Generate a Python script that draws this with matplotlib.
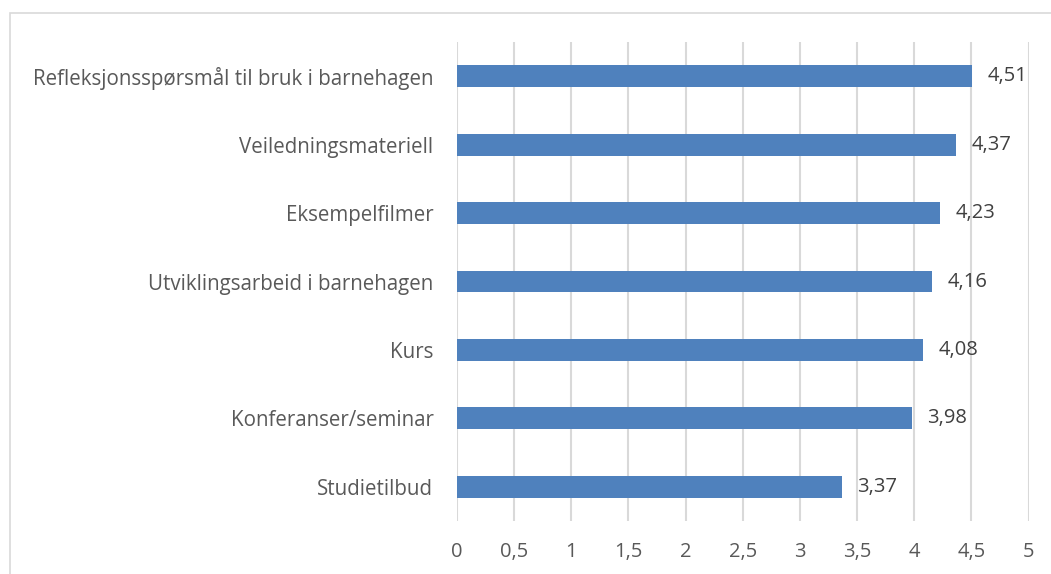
import matplotlib

matplotlib.use("Agg")
import matplotlib.pyplot as plt
from matplotlib.patches import Rectangle

categories = [
    "Refleksjonsspørsmål til bruk i barnehagen",
    "Veiledningsmateriell",
    "Eksempelfilmer",
    "Utviklingsarbeid i barnehagen",
    "Kurs",
    "Konferanser/seminar",
    "Studietilbud",
]
values = [4.51, 4.37, 4.23, 4.16, 4.08, 3.98, 3.37]
xticks = [0, 0.5, 1, 1.5, 2, 2.5, 3, 3.5, 4, 4.5, 5]

plt.rcParams["font.family"] = ["Open Sans", "DejaVu Sans"]

fig = plt.figure(figsize=(10.51, 5.74), dpi=100)
# light frame round the chart area
fig.patches.append(Rectangle((10 / 1051, -0.1), 1.2, 1.1 - 13 / 574,
                             transform=fig.transFigure, fill=False,
                             edgecolor="#D9D9D9", lw=1.2))

ax = fig.add_axes([457 / 1051, 1 - 521 / 574, (1028.5 - 457) / 1051, 479 / 574])
ypos = list(range(len(categories)))
ax.barh(ypos, values, height=0.32, color="#4F81BD", zorder=2)
ax.set_ylim(len(categories) - 0.5, -0.5)
ax.set_xlim(0, 5)
ax.set_xticks(xticks)
ax.set_xticklabels([f"{t:g}".replace(".", ",") for t in xticks],
                   fontsize=14.5, color="#595959")
ax.set_yticks(ypos)
ax.set_yticklabels(categories, fontsize=14.8, color="#595959")
ax.tick_params(axis="y", length=0, pad=17)
ax.tick_params(axis="x", length=0, pad=15)
ax.grid(axis="x", color="#D9D9D9", lw=1.5, zorder=0)
for s in ax.spines.values():
    s.set_visible(False)

for y, v in zip(ypos, values):
    ax.annotate(f"{v:.2f}".replace(".", ","), (v, y), xytext=(11, 0),
                textcoords="offset points", va="center", ha="left",
                fontsize=14.5, color="#404040")

fig.savefig("out.png", dpi=100)
